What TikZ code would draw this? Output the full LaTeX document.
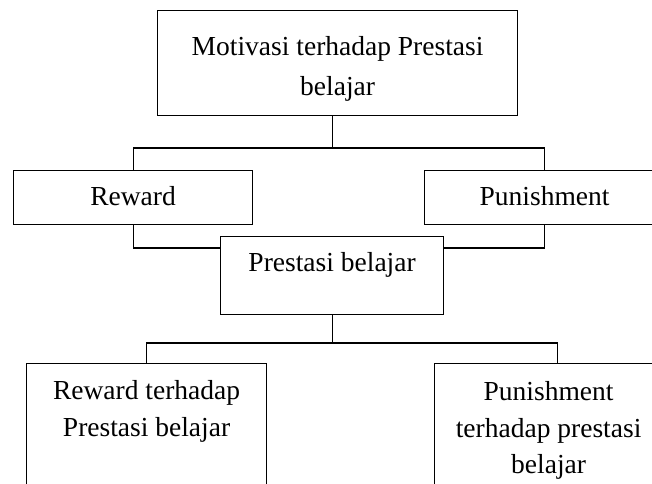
\documentclass[tikz,border=0pt]{standalone}
\usepackage{fontspec}
\setmainfont{Liberation Serif}
\usetikzlibrary{positioning}
\tikzset{box/.style = {draw, line width=1.2pt, inner sep=0pt, anchor=north west,
                       font=\fontsize{27.5}{36.5}\selectfont},
         link/.style = {line width=1.2pt}}
% width, height, line skip, first baseline, text
\newcommand{\boxlines}[5]{\parbox[c][#2][t]{#1}{\centering\baselineskip=#3\relax\rule{0pt}{#4}#5\par}}

\begin{document}
\begin{tikzpicture}[x=1pt, y=1pt]
            \useasboundingbox (0,0) rectangle (652,-483);
            \clip (0,0) rectangle (652,-483);

            \node[box] (motivasi) at (157, -10) {\boxlines{360pt}{105pt}{40pt}{45pt}{Motivasi terhadap Prestasi\\ belajar}};
            \node[box] (reward)   at ( 13,-170) {\boxlines{239pt}{54pt}{36pt}{35pt}{Reward}};
            \node[box] (punish)   at (424,-170) {\boxlines{240pt}{54pt}{36pt}{35pt}{Punishment}};
            \node[box] (prestasi) at (220,-236) {\boxlines{223pt}{78pt}{36pt}{35pt}{Prestasi belajar}};
            \node[box] (rtp)      at ( 26,-363) {\boxlines{240pt}{150pt}{36.5pt}{36pt}{Reward terhadap\\ Prestasi belajar}};
            \node[box] (ptp)      at (434,-363) {\boxlines{228pt}{150pt}{36.5pt}{37pt}{Punishment\\ terhadap prestasi\\ belajar}};

            \coordinate (bar)  at (0,-148);
            \coordinate (mid)  at (0,-248);
            \coordinate (low)  at (0,-343);

            \draw[link] (prestasi.north |- motivasi.south) -- (prestasi.north |- bar);
            \draw[link] (reward.north) -- (reward.north |- bar) -- (punish.north |- bar) -- (punish.north);
            \draw[link] (reward.south) |- (prestasi.west |- mid);
            \draw[link] (punish.south) |- (prestasi.east |- mid);
            \draw[link] (prestasi.south) -- (prestasi.south |- low);
            \draw[link] (rtp.north) -- (rtp.north |- low) -- ([xshift=9pt]ptp.north |- low) -- ([xshift=9pt]ptp.north);
        \end{tikzpicture}
\end{document}
